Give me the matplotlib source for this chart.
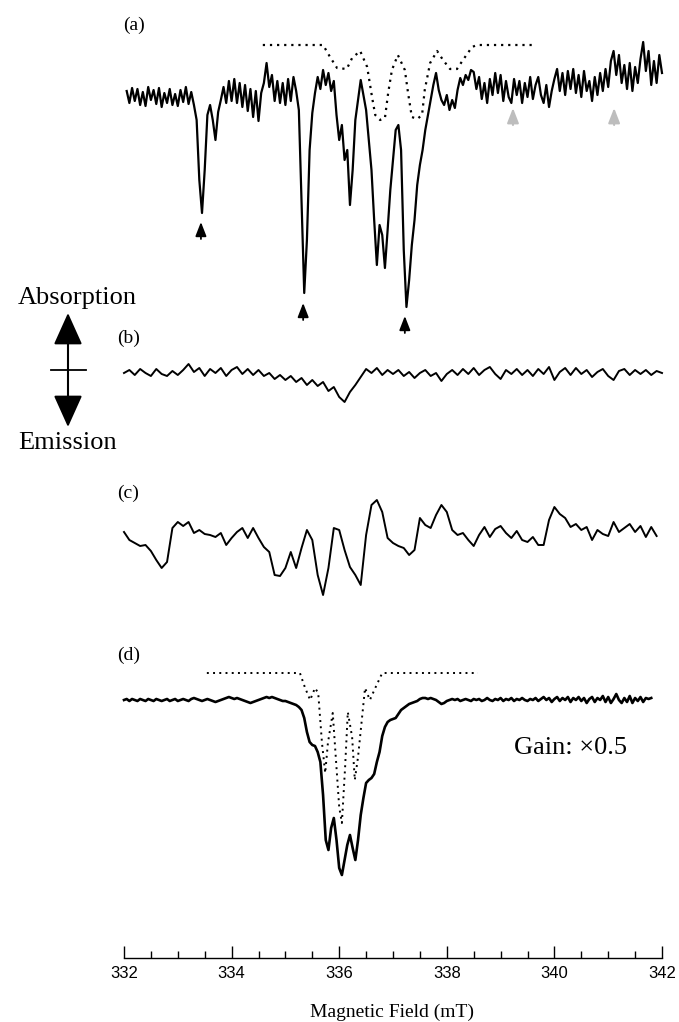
import matplotlib
matplotlib.use("Agg")
import matplotlib.pyplot as plt
import numpy as np

plt.rcParams['font.family'] = ['Liberation Sans', 'DejaVu Sans']
SERIF = ['Liberation Serif', 'DejaVu Serif']

# ---- data (signal in arbitrary units, baseline = 0, positive = absorption) ----
# (a) measured, 0.05 mT steps
field_a = np.linspace(332.05, 342.0, 200)
trace_a = [6, -6, 9, -4, 8, -8, 5, -9, 10, -3, 7, -7, 9, -10, 4, -6, 8, -8, 3, -9,
           7, -5, 10, -7, 5, -8,
           -23, -83, -116, -73, -18, -8, -23, -43, -15, -3,
           10, -6, 16, -4, 18, -6, 14, -10, 12, -14, 8, -20, 6, -24, 4, 14, 34, 10, 22, -4,
           16, -6, 14, -8, 18, -4, 20, 6,
           -13, -103, -196, -143, -53, -16, 4, 20, 8, 27, 12, 24, 6, 16,
           -18, -43, -28, -63, -53, -108, -73, -23, -3, 17, 2, -13, -43, -73, -123,
           -168, -128, -138, -171, -133, -93, -63, -33, -28, -53, -153, -210, -183, -148, -123,
           -88, -68, -53, -33, -18, -3, 12, 24, 7, -3, -8, 2, -13, -3, -11, 7, 19, 12, 22, 17, 27,
           25, 8, 20, -2, 14, -6, 18, 2, 24, 4, 22, -4,
           16, 0, -6, 18, 2, 16, -6, 14, 0, 20, -2, 12, 20, 2, -6, 12, -10, 6,
           18, 28, 6, 24, 2, 26, 8, 28, 4, 22, 0, 26, 6, 16,
           -4, 20, 2, 24, 6, 28, 10, 36, 46, 22, 42, 14, 32, 8, 34, 6, 30, 14,
           38, 55, 26, 46, 12, 36, 14, 42, 24]

# (a) simulation (dotted)
sim_a_field = [334.58, 335.70, 335.83, 335.96, 336.14, 336.24, 336.39, 336.52, 336.61,
               336.67, 336.76, 336.85, 336.91, 336.98, 337.09, 337.22, 337.28, 337.35,
               337.45, 337.54, 337.59, 337.69, 337.82, 337.93, 338.06, 338.19, 338.30,
               338.47, 338.56, 339.60]
sim_a = [0, 0, -12, -23, -24, -13, -6, -22, -52, -70, -75, -73, -48, -25, -10, -25, -48,
         -72, -74, -70, -45, -18, -6, -15, -24, -24, -15, -2, 0, 0]

# (b) 0.1 mT steps
field_b = np.linspace(332.0, 342.0, 101)
trace_b = [0, 3, -2, 4, 0, -3, 4, -1, -3, 2, -2, 3, 9, 1, 5, -3, 4, 0, 5, -3,
           3, 6, -1, 4, -2, 3, -3, 0, -6, -2, -7, -3, -9, -5, -12, -7, -13, -9, -18, -14,
           -24, -29, -19, -12, -4, 4, 0, 5, -2, 3, -1, 3, -3, 1, -5, 0, 3, -3, 0, -8,
           -1, 3, -2, 4, -1, 5, -2, 3, 6, -1, -6, 3, -1, 4, -2, 3, -3, 4, -1, 6,
           -7, 1, 5, -2, 5, -1, 3, -4, 1, 4, -3, -7, 2, 4, -2, 3, -1, 3, -2, 2, 0]

# (c) 0.1 mT steps
field_c = np.linspace(332.0, 341.9, 100)
trace_c = [3, -5, -8, -11, -10, -16, -25, -33, -27, 7, 13, 9, 13, 2, 5, 1, 0, -2, 2, -10,
           -3, 3, 7, -3, 7, -3, -12, -17, -40, -41, -33, -17, -33, -13, 5, -5, -40, -60, -33, 7,
           5, -15, -32, -40, -50, 0, 30, 35, 23, -3, -8, -11, -13, -20, -15, 17, 10, 7, 20, 30,
           23, 5, 0, 2, -5, -11, 0, 8, -2, 6, 9, 2, -3, 4, -5, -7, -2, -10, -10, 15,
           28, 21, 17, 8, 11, 5, 8, -5, 5, 1, -1, 13, 3, 7, 11, 3, 9, -2, 8, -1]

# (d) measured, 0.05 mT steps
field_d = np.linspace(332.0, 341.8, 197)
trace_d = [0, 1, -1, 1, 0, -1, 1, 0, -1, 1, 0, -1, 1, 0, -1, 0, 1, -1, 0, 1,
           -1, 0, 1, 0, -1, 1, 2, 1, 0, -1, 0, 1, 0, -1, -2, -1, 0, 1, 2, 3,
           2, 1, 2, 1, 0, -1, -2, -3, -2, -1, 0, 1, 2, 3, 2, 3, 2, 1, 0, -1,
           -1, -2, -3, -4, -5, -7, -10, -18, -32, -42, -45, -46, -52, -62, -95, -140, -150, -128, -118, -140,
           -168, -175, -160, -145, -135, -148, -160, -140, -115, -98, -83, -80, -78, -74, -62, -52, -36, -27, -22, -20,
           -19, -18, -14, -10, -8, -6, -4, -3, -2, -1, 1, 2, 2, 1, 2, 1, 0, -2, -4, -3,
           -1, 0, 1, 0, 1, -1, 0, 1, 0, -1, 1, 0, 1, -1, 0, 2, 0, -1, 1, 0,
           2, -1, 1, 0, 2, -1, 1, 0, 2, 0, -1, 1, 0, 2, -1, 1, 3, 0, 2, -2,
           1, 3, -1, 2, 0, 3, -2, 2, 0, 3, -1, 2, -3, 1, 3, -2, 2, 0, 4, -2,
           3, -3, 1, 6, 0, -3, 2, -2, 4, -3, 2, -1, 3, -2, 2, 1, 2]

# (d) simulation (dotted)
sim_d_field = [333.54, 335.27, 335.36, 335.46, 335.55, 335.61, 335.68, 335.74, 335.79,
               335.88, 335.94, 336.00, 336.05, 336.11, 336.16, 336.24, 336.29, 336.35,
               336.42, 336.48, 336.57, 336.67, 336.80, 338.58]
sim_d = [0, 0, -14, -27, -15, -20, -70, -100, -70, -40, -87, -134, -150, -94, -39, -64,
         -107, -84, -47, -15, -27, -15, 0, 0]

# resonance markers in (a)
black_marks = [333.43, 335.33, 337.22]
grey_marks = [339.23, 341.11]

# ---- layout ----
W, H = 679, 1022
fig = plt.figure(figsize=(W / 100, H / 100), dpi=100)
ax = fig.add_axes([124 / W, 64 / H, 538 / W, 958 / H])
ax.set_xlim(332, 342)
ax.set_ylim(0, 958)

off_a, off_sa = 861, 913
off_b, off_c = 585, 423
off_d, off_sd = 258, 285

ax.plot(field_a, np.array(trace_a) + off_a, color='black', lw=1.6, clip_on=False)
ax.plot(sim_a_field, np.array(sim_a) + off_sa, color='black', lw=1.6,
        linestyle=(0, (1, 2.2)), dash_capstyle='butt')
ax.plot(field_b, np.array(trace_b) + off_b, color='black', lw=1.4, clip_on=False)
ax.plot(field_c, np.array(trace_c) + off_c, color='black', lw=1.4, clip_on=False)
ax.plot(field_d, np.array(trace_d) + off_d, color='black', lw=1.9, clip_on=False)
ax.plot(sim_d_field, np.array(sim_d) + off_sd, color='black', lw=1.4,
        linestyle=(0, (1, 2.2)), dash_capstyle='butt')

# arrows under the dips
arrow_tips = [736, 655, 642]
for xm, tip in zip(black_marks, arrow_tips):
    ax.annotate('', xy=(xm, tip), xytext=(xm, tip - 17),
                arrowprops=dict(arrowstyle='-|>,head_length=0.85,head_width=0.33',
                                color='black', lw=1.3, shrinkA=0, shrinkB=0))
for xm in grey_marks:
    ax.annotate('', xy=(xm, 850), xytext=(xm, 833),
                arrowprops=dict(arrowstyle='-|>,head_length=0.9,head_width=0.35',
                                color='#bdbdbd', lw=1.5, shrinkA=0, shrinkB=0))

# axis styling
for s in ['top', 'right', 'left']:
    ax.spines[s].set_visible(False)
ax.spines['bottom'].set_linewidth(1.0)
ax.set_yticks([])
ax.set_xticks(np.arange(332, 343, 2))
ax.set_xticks(np.arange(332, 342.01, 0.5), minor=True)
ax.tick_params(axis='x', which='major', direction='in', length=9, width=1.0,
               labelsize=12, pad=6)
ax.tick_params(axis='x', which='minor', direction='in', length=5, width=1.0)
ax.patch.set_visible(False)

# texts (positions in figure pixels)
def ftext(x, row, s, size, ha='left'):
    fig.text(x / W, 1 - row / H, s, fontsize=size, family=SERIF, ha=ha, va='center')

ftext(123, 25, '(a)', 14)
ftext(117, 338, '(b)', 14)
ftext(117, 493, '(c)', 14)
ftext(117, 655, '(d)', 14)
ftext(514, 748, 'Gain: \u00d70.5', 19)
ftext(77, 298, 'Absorption', 19, ha='center')
ftext(68, 443, 'Emission', 19, ha='center')
ftext(392, 1012, 'Magnetic Field (mT)', 14, ha='center')

# absorption / emission double arrow
fig.patches.append(matplotlib.patches.FancyArrowPatch(
    (68 / W, 1 - 313 / H), (68 / W, 1 - 427 / H), transform=fig.transFigure,
    arrowstyle='<|-|>,head_length=1.0,head_width=0.45', mutation_scale=20,
    color='black', lw=1.5, shrinkA=0, shrinkB=0))
fig.add_artist(plt.Line2D([51 / W, 86 / W], [1 - 370 / H, 1 - 370 / H],
                          transform=fig.transFigure, color='black', lw=1.3))

fig.savefig('out.png', dpi=100)
